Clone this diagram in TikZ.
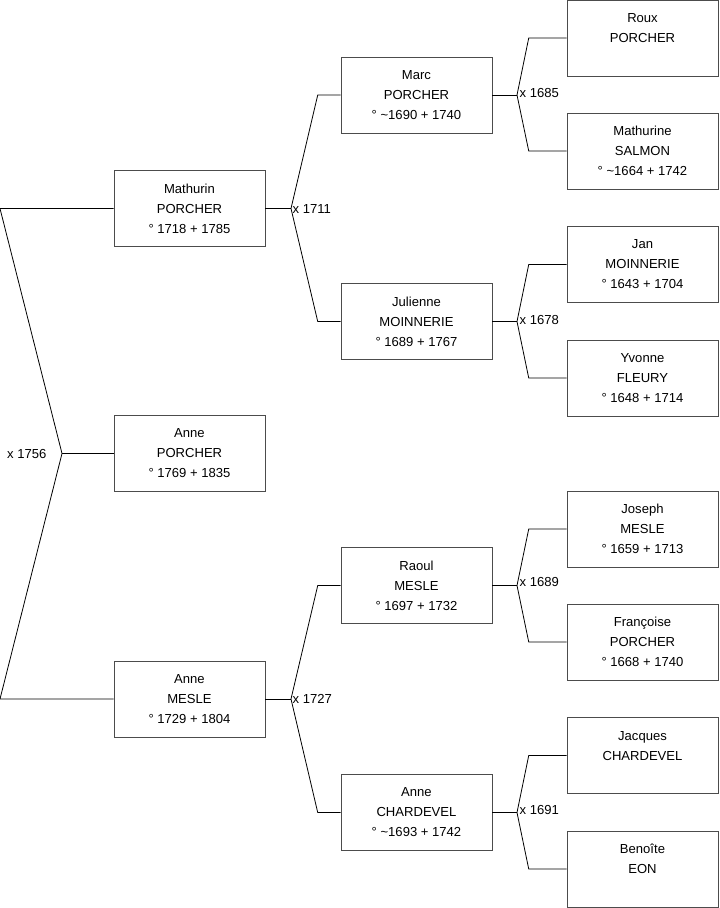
\documentclass[tikz,border=0pt]{standalone}
\usepackage{fontspec}
\setmainfont{Liberation Sans}
\usetikzlibrary{positioning,calc}

\tikzset{
  person/.style={draw=black!70,fill=white,minimum width=113.25pt,minimum height=57pt,
    inner sep=0pt,align=center,font=\fontsize{9.8}{15}\selectfont},
  wedlock/.style={font=\fontsize{9.8}{11}\selectfont,inner sep=1pt},
  link/.style={draw=black,line width=0.6pt}
}

\begin{document}
\begin{tikzpicture}[x=0.75pt,y=-0.75pt]
            \useasboundingbox (0,0) rectangle (719,908);
            % generation 1
            \node[person] (mathurin) at (189.5,208.5) {Mathurin\\PORCHER\\° 1718 + 1785};
            \node[person] (anne) at (189.5,453.5) {Anne\\PORCHER\\° 1769 + 1835};
            \node[person] (annem) at (189.5,699) {Anne\\MESLE\\° 1729 + 1804};
            % generation 2
            \node[person] (marc) at (416.5,95) {Marc\\PORCHER\\° \textasciitilde1690 + 1740};
            \node[person] (julienne) at (416.5,321.5) {Julienne\\MOINNERIE\\° 1689 + 1767};
            \node[person] (raoul) at (416.5,585.5) {Raoul\\MESLE\\° 1697 + 1732};
            \node[person] (annec) at (416.5,812.5) {Anne\\CHARDEVEL\\° \textasciitilde1693 + 1742};
            % generation 3
            \node[person] (roux) at (642.5,38) {Roux\\PORCHER\\\mbox{}};
            \node[person] (mathurine) at (642.5,151) {Mathurine\\SALMON\\° \textasciitilde1664 + 1742};
            \node[person] (jan) at (642.5,264.5) {Jan\\MOINNERIE\\° 1643 + 1704};
            \node[person] (yvonne) at (642.5,378) {Yvonne\\FLEURY\\° 1648 + 1714};
            \node[person] (joseph) at (642.5,529) {Joseph\\MESLE\\° 1659 + 1713};
            \node[person] (francoise) at (642.5,642) {Françoise\\PORCHER\\° 1668 + 1740};
            \node[person] (jacques) at (642.5,755.5) {Jacques\\CHARDEVEL\\\mbox{}};
            \node[person] (benoite) at (642.5,869) {Benoîte\\EON\\\mbox{}};

            % marriages
            \coordinate (v1756) at (62,453.5);
            \coordinate (t1756) at (0,208.5);
            \coordinate (b1756) at (0,699);
            \coordinate (v1711) at (291,208.5);
            \coordinate (v1727) at (291,699);
            \coordinate (v1685) at (517,95);
            \coordinate (v1678) at (517,321.5);
            \coordinate (v1689) at (517,585.5);
            \coordinate (v1691) at (517,812.5);

            \draw[link] (mathurin.west) -- (t1756) -- (v1756) -- (b1756) -- (annem.west);
            \draw[link] (v1756) -- (anne.west);
            \draw[link] (mathurin.east) -- (v1711);
            \draw[link] (marc.west) -- ++(-23,0) -- (v1711) -- ($(julienne.west)+(-23,0)$) -- (julienne.west);
            \draw[link] (annem.east) -- (v1727);
            \draw[link] (raoul.west) -- ++(-23,0) -- (v1727) -- ($(annec.west)+(-23,0)$) -- (annec.west);
            \draw[link] (marc.east) -- (v1685);
            \draw[link] (roux.west) -- ++(-38,0) -- (v1685) -- ($(mathurine.west)+(-38,0)$) -- (mathurine.west);
            \draw[link] (julienne.east) -- (v1678);
            \draw[link] (jan.west) -- ++(-38,0) -- (v1678) -- ($(yvonne.west)+(-38,0)$) -- (yvonne.west);
            \draw[link] (raoul.east) -- (v1689);
            \draw[link] (joseph.west) -- ++(-38,0) -- (v1689) -- ($(francoise.west)+(-38,0)$) -- (francoise.west);
            \draw[link] (annec.east) -- (v1691);
            \draw[link] (jacques.west) -- ++(-38,0) -- (v1691) -- ($(benoite.west)+(-38,0)$) -- (benoite.west);

            \node[wedlock,anchor=east] (m1756) at (48,453.5) {x 1756};
            \node[wedlock,anchor=west] (m1711) at (291,208.5) {x 1711};
            \node[wedlock,anchor=west] (m1727) at (291,699) {x 1727};
            \node[wedlock,anchor=west] (m1685) at (518,93) {x 1685};
            \node[wedlock,anchor=west] (m1678) at (518,320) {x 1678};
            \node[wedlock,anchor=west] (m1689) at (518,582) {x 1689};
            \node[wedlock,anchor=west] (m1691) at (518,810) {x 1691};
        \end{tikzpicture}
\end{document}
